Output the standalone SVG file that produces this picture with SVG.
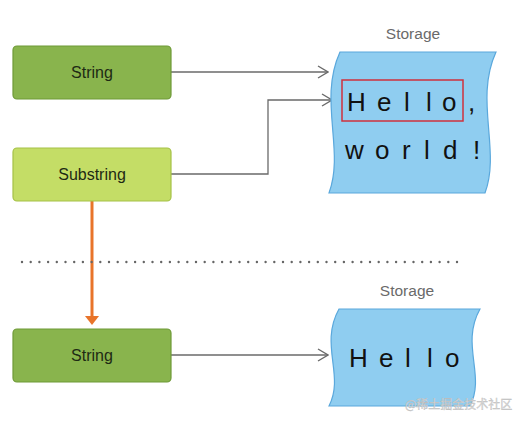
<svg xmlns="http://www.w3.org/2000/svg" width="514" height="422" viewBox="0 0 514 422">
<style>
.box{stroke-width:1.2}
.dark{fill:#89b44d;stroke:#6e9a37}
.light{fill:#c4dd66;stroke:#a5c147}
.lbl{font-family:"Liberation Sans",Arial,sans-serif;font-size:16px;fill:#1e2a14;text-anchor:middle}
.stor{font-family:"Liberation Sans",Arial,sans-serif;font-size:15.5px;fill:#6a6a6a;text-anchor:middle}
.big{font-family:"Liberation Sans",Arial,sans-serif;font-size:26px;fill:#111}
.mem{fill:#8fcdf0;stroke:#5aa8dc;stroke-width:1.2}
.conn{fill:none;stroke:#6a6a6a;stroke-width:1.3}
</style>
<defs>
<marker id="open" viewBox="0 0 12 14" refX="11" refY="7" markerWidth="12" markerHeight="14" markerUnits="userSpaceOnUse" orient="auto">
<path d="M1,1 L11,7 L1,13" fill="none" stroke="#6a6a6a" stroke-width="1.4"/>
</marker>
</defs>
<g id="connectors">
<line class="conn" x1="171" y1="72" x2="328" y2="72" marker-end="url(#open)"/>
<polyline class="conn" points="171,174 268,174 268,100 332,100" marker-end="url(#open)"/>
<line class="conn" x1="171" y1="355" x2="328" y2="355" marker-end="url(#open)"/>
<line x1="92" y1="201" x2="92" y2="318" stroke="#e8742a" stroke-width="3"/>
<path d="M85,316 L99,316 L92,325 Z" fill="#e8742a"/>
</g>
<g id="divider">
<line x1="22" y1="262" x2="458" y2="262" stroke="#666" stroke-width="2.4" stroke-linecap="round" stroke-dasharray="0 8.7"/>
</g>
<g id="string-top">
<rect class="box dark" x="13" y="46" width="158" height="53" rx="4"/>
<text class="lbl" x="92" y="78">String</text>
</g>
<g id="substring">
<rect class="box light" x="13" y="148" width="158" height="53" rx="4"/>
<text class="lbl" x="92" y="180">Substring</text>
</g>
<g id="string-bottom">
<rect class="box dark" x="13" y="329" width="158" height="53" rx="4"/>
<text class="lbl" x="92" y="361">String</text>
</g>
<g id="storage-top">
<text class="stor" x="413" y="39">Storage</text>
<path class="mem" d="M340,52 L496,52 C474,100 501,150 485,193 L329,193 C345,150 318,100 340,52 Z"/>
<rect x="342" y="80" width="121" height="41" fill="none" stroke="#d0313d" stroke-width="1.5"/>
<text class="big" x="347 377 404 426 442 468" y="111">Hello,</text>
<text class="big" x="345 375 402 424 443 473" y="159">world!</text>
</g>
<g id="storage-bottom">
<text class="stor" x="407" y="296">Storage</text>
<path class="mem" d="M339,309 L480,309 C460,345 486,375 470,406 L329,406 C345,375 319,345 339,309 Z"/>
<text class="big" x="349 379 405 427 445" y="367">Hello</text>
</g>
<text x="405" y="409" font-family="'Noto Sans CJK SC','Liberation Sans',sans-serif" font-size="12" fill="#d8d8d8" stroke="#b8b8b8" stroke-width="0.3">@稀土掘金技术社区</text>
</svg>
